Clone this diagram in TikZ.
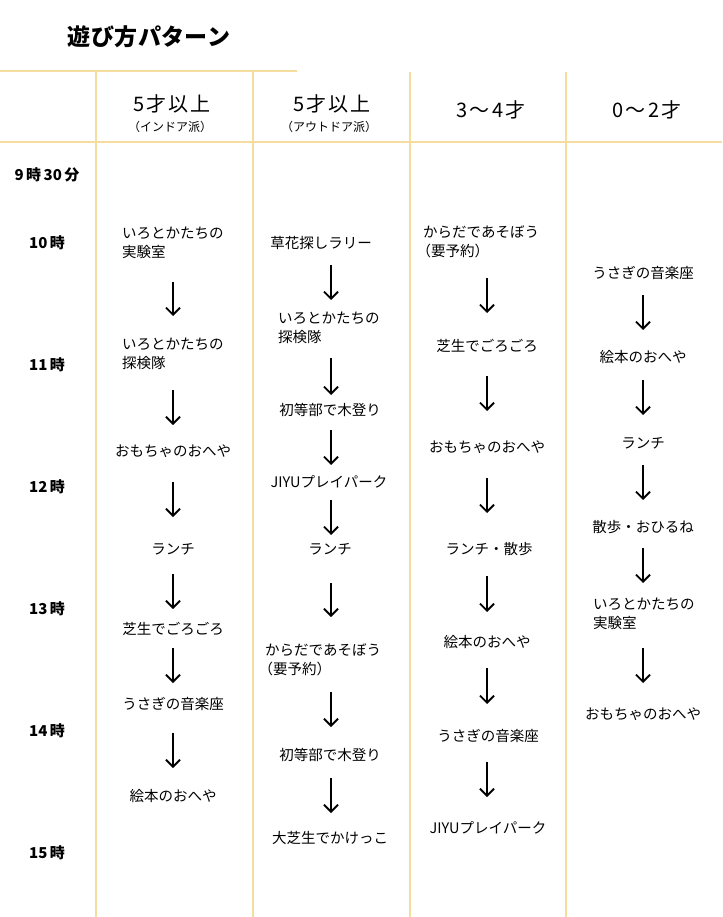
\documentclass[tikz,border=0pt]{standalone}
\usepackage{fontspec}
\setmainfont{Noto Sans CJK JP}
\usetikzlibrary{arrows.meta}
\definecolor{gridc}{RGB}{245,221,158}
\newcommand{\tg}{\kern2.5pt}
\begin{document}
\begin{tikzpicture}[x=1pt,y=-1pt,
 gridline/.style={draw=gridc,line width=2pt},
 item/.style={font=\fontsize{14.5}{19}\selectfont,inner sep=0pt,align=center},
 itemleft/.style={font=\fontsize{14.5}{19}\selectfont,inner sep=0pt,align=left,anchor=west},
 timelbl/.style={font=\bfseries\fontsize{15}{17}\selectfont,inner sep=0pt},
 hdr/.style={font=\fontsize{20}{22}\selectfont\addfontfeature{LetterSpace=11},inner sep=0pt},
 subhdr/.style={font=\fontsize{12}{14}\selectfont,inner sep=0pt},
 arr/.style={-{Straight Barb[length=7pt,width=14pt]}, line width=1.8pt}]
\useasboundingbox (0,0) rectangle (722,917);
\fill[white] (0,0) rectangle (722,917);
% grid
\draw[gridline] (0,71) -- (297,71);
\draw[gridline] (0,142) -- (722,142);
\draw[gridline] (96,71) -- (96,917);
\draw[gridline] (253,71) -- (253,917);
\draw[gridline] (410,72) -- (410,917);
\draw[gridline] (566,72) -- (566,917);
% title
\node[font=\bfseries\fontsize{23}{26}\selectfont\addfontfeature{LetterSpace=2},inner sep=0pt] (title) at (149,37) {遊び方パターン};
% headers
\node[hdr] (h1) at (172,104) {5才以上};
\node[subhdr] (h1s) at (170,127) {（インドア派）};
\node[hdr] (h2) at (332,104) {5才以上};
\node[subhdr] (h2s) at (329,127) {（アウトドア派）};
\node[hdr] (h3) at (491,110) {3～4才};
\node[hdr] (h4) at (647,110) {0～2才};
% times
\node[timelbl] (t0) at (47,175) {9\tg 時\tg 30\tg 分};
\node[timelbl] (t10) at (47,243) {10\tg 時};
\node[timelbl] (t11) at (47,365) {11\tg 時};
\node[timelbl] (t12) at (47,487) {12\tg 時};
\node[timelbl] (t13) at (47,609) {13\tg 時};
\node[timelbl] (t14) at (47,731) {14\tg 時};
\node[timelbl] (t15) at (47,853) {15\tg 時};
% column 1
\node[itemleft] (c1a) at (122,243) {いろとかたちの\\実験室};
\node[itemleft] (c1b) at (122,354) {いろとかたちの\\探検隊};
\node[item] (c1c) at (173,451) {おもちゃのおへや};
\node[item] (c1d) at (173,549) {ランチ};
\node[item] (c1e) at (173,629) {芝生でごろごろ};
\node[item] (c1f) at (173,704) {うさぎの音楽座};
\node[item] (c1g) at (173,796) {絵本のおへや};
\foreach \a/\b in {282/316,390/425,482/517,574/609,648/683,733/768}
  \draw[arr] (173,\a) -- (173,\b);
% column 2
\node[item] (c2a) at (321,243) {草花探しラリー};
\node[itemleft] (c2b) at (278,328) {いろとかたちの\\探検隊};
\node[item] (c2c) at (330,410) {初等部で木登り};
\node[item] (c2d) at (329,482) {JIYUプレイパーク};
\node[item] (c2e) at (330,549) {ランチ};
\node[itemleft] (c2f) at (265,660) {からだであそぼう\\\kern-0.45em（要予約）};
\node[item] (c2g) at (330,755) {初等部で木登り};
\node[item] (c2h) at (330,838) {大芝生でかけっこ};
\foreach \a/\b in {265/300,358/395,430/465,500/535,583/617,692/727,778/813}
  \draw[arr] (331,\a) -- (331,\b);
% column 3
\node[itemleft] (c3a) at (423,242) {からだであそぼう\\\kern-0.45em（要予約）};
\node[item] (c3b) at (487,346) {芝生でごろごろ};
\node[item] (c3c) at (487,447) {おもちゃのおへや};
\node[item] (c3d) at (489,549) {ランチ・散歩};
\node[item] (c3e) at (487,642) {絵本のおへや};
\node[item] (c3f) at (488,736) {うさぎの音楽座};
\node[item] (c3g) at (488,828) {JIYUプレイパーク};
\foreach \a/\b in {278/313,376/411,478/513,576/612,668/704,762/797}
  \draw[arr] (487,\a) -- (487,\b);
% column 4
\node[item] (c4a) at (643,273) {うさぎの音楽座};
\node[item] (c4b) at (643,357) {絵本のおへや};
\node[item] (c4c) at (643,443) {ランチ};
\node[item] (c4d) at (643,527) {散歩・おひるね};
\node[itemleft] (c4e) at (593,614) {いろとかたちの\\実験室};
\node[item] (c4f) at (643,714) {おもちゃのおへや};
\foreach \a/\b in {295/330,380/415,465/500,548/583,648/683}
  \draw[arr] (643,\a) -- (643,\b);
\end{tikzpicture}
\end{document}
